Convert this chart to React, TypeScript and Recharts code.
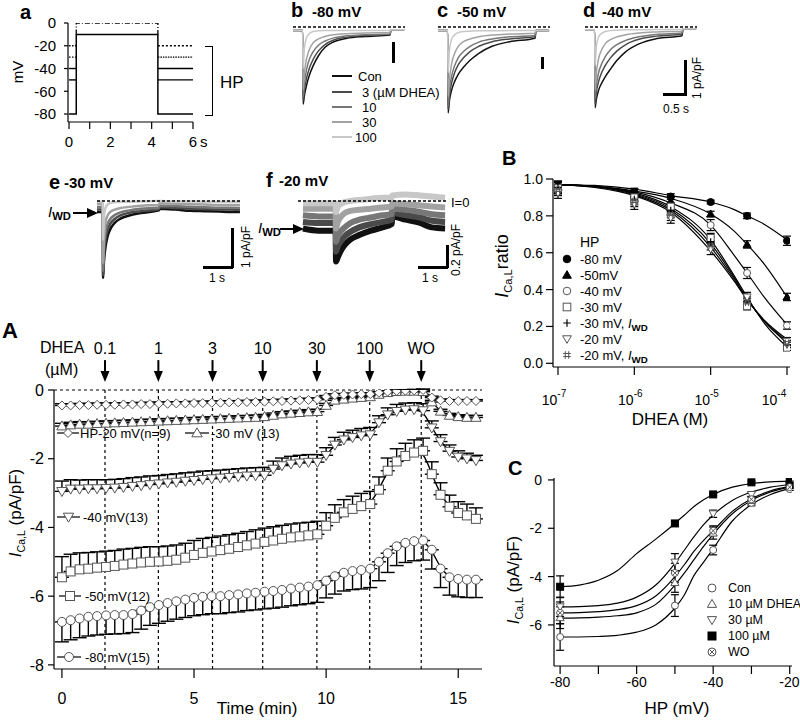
import React from 'react';
import { ComposedChart, LineChart, Line, Scatter, XAxis, YAxis, ReferenceLine, ErrorBar } from 'recharts';

const FONT = '"Liberation Sans", Arial, Helvetica, sans-serif';

// ---------- panel a: voltage protocol ----------
const PROTO_T = [0, 0.35, 0.35, 4.3, 4.3, 6];
const PROTO_MV = [-80, -80, -10, -10, -80, -80];
const TOP_T = [0.35, 0.35, 4.3, 4.3];
const TOP_MV = [-10, 0, 0, -10];
const HOLD_MV = [-20, -30, -40, -50];
const PRE_T = [0, 0.35];
const POST_T = [4.3, 6];

// ---------- panels b-f: current traces ----------
const TRACE_NAMES = ['Con', '3 (\u00b5M DHEA)', '10', '30', '100'];
const TRACE_COLORS = ['#111', '#4a4a4a', '#777', '#a2a2a2', '#c8c8c8'];
const BD_T = [-0.23, -0.01, 0, 0.03, 0.08, 0.15, 0.23, 0.35, 0.5, 0.7, 1.0, 1.4, 1.98, 2.0, 2.3];
const B_TR = [
  [-0.1, -0.1, -2.2, -1.95, -1.65, -1.35, -1.1, -0.82, -0.58, -0.42, -0.32, -0.27, -0.23, -0.08, -0.08],
  [-0.1, -0.1, -2.1, -1.8, -1.45, -1.15, -0.92, -0.68, -0.5, -0.37, -0.29, -0.24, -0.21, -0.08, -0.08],
  [-0.1, -0.1, -2.0, -1.6, -1.2, -0.9, -0.7, -0.52, -0.4, -0.31, -0.25, -0.22, -0.2, -0.08, -0.08],
  [-0.1, -0.1, -1.8, -1.3, -0.9, -0.62, -0.45, -0.34, -0.27, -0.22, -0.19, -0.17, -0.16, -0.08, -0.08],
  [-0.1, -0.1, -1.2, -0.6, -0.3, -0.18, -0.13, -0.11, -0.1, -0.1, -0.1, -0.1, -0.1, -0.08, -0.08],
];
const C_TR = [
  [-0.1, -0.1, -2.45, -2.1, -1.8, -1.55, -1.35, -1.15, -0.95, -0.75, -0.55, -0.42, -0.32, -0.1, -0.1],
  [-0.1, -0.1, -2.35, -1.95, -1.6, -1.3, -1.08, -0.88, -0.7, -0.55, -0.42, -0.34, -0.28, -0.1, -0.1],
  [-0.1, -0.1, -2.25, -1.8, -1.4, -1.1, -0.88, -0.7, -0.55, -0.43, -0.34, -0.28, -0.24, -0.1, -0.1],
  [-0.1, -0.1, -2.0, -1.5, -1.05, -0.75, -0.55, -0.42, -0.34, -0.28, -0.23, -0.2, -0.18, -0.1, -0.1],
  [-0.1, -0.1, -1.3, -0.7, -0.35, -0.22, -0.16, -0.13, -0.12, -0.11, -0.11, -0.1, -0.1, -0.1, -0.1],
];
const D_TR = [
  [-0.08, -0.08, -2.3, -2.05, -1.8, -1.6, -1.42, -1.2, -0.95, -0.7, -0.48, -0.33, -0.25, -0.05, -0.05],
  [-0.08, -0.08, -2.2, -1.85, -1.55, -1.3, -1.1, -0.88, -0.68, -0.5, -0.35, -0.26, -0.2, -0.05, -0.05],
  [-0.08, -0.08, -2.05, -1.65, -1.3, -1.05, -0.85, -0.65, -0.5, -0.38, -0.28, -0.21, -0.17, -0.05, -0.05],
  [-0.08, -0.08, -1.8, -1.3, -0.9, -0.65, -0.48, -0.36, -0.28, -0.22, -0.17, -0.14, -0.12, -0.05, -0.05],
  [-0.08, -0.08, -1.1, -0.55, -0.28, -0.18, -0.13, -0.1, -0.09, -0.08, -0.08, -0.07, -0.07, -0.05, -0.05],
];
const E_T = [-0.21, -0.01, 0, 0.03, 0.08, 0.15, 0.25, 0.4, 0.6, 0.9, 1.3, 1.92, 1.94, 2.5, 3.0, 3.5, 4.0, 4.4, 4.72];
const E_TR = [
  [-0.28, -0.28, -1.97, -1.55, -1.2, -0.92, -0.72, -0.56, -0.45, -0.37, -0.31, -0.24, -0.2, -0.22, -0.25, -0.26, -0.27, -0.28, -0.28],
  [-0.22, -0.22, -1.9, -1.4, -1.0, -0.75, -0.58, -0.46, -0.37, -0.3, -0.26, -0.21, -0.16, -0.18, -0.2, -0.21, -0.22, -0.22, -0.23],
  [-0.16, -0.16, -1.8, -1.2, -0.82, -0.6, -0.46, -0.36, -0.29, -0.24, -0.2, -0.17, -0.12, -0.13, -0.15, -0.16, -0.17, -0.17, -0.18],
  [-0.08, -0.08, -1.6, -0.9, -0.55, -0.38, -0.28, -0.22, -0.18, -0.15, -0.12, -0.1, -0.06, -0.07, -0.08, -0.09, -0.1, -0.1, -0.1],
  [-0.02, -0.02, -1.0, -0.4, -0.18, -0.09, -0.05, -0.03, -0.02, -0.02, -0.01, 0.0, 0.0, -0.01, -0.01, -0.02, -0.02, -0.02, -0.02],
];
const F_T = [-1.14, -0.6, -0.01, 0, 0.05, 0.15, 0.3, 0.5, 0.8, 1.2, 1.6, 1.92, 1.94, 2.4, 2.9, 3.3, 3.76];
const F_TR = [
  [-0.25, -0.27, -0.27, -0.55, -0.52, -0.46, -0.4, -0.35, -0.31, -0.27, -0.24, -0.21, -0.14, -0.17, -0.2, -0.24, -0.25],
  [-0.19, -0.2, -0.2, -0.46, -0.42, -0.37, -0.32, -0.28, -0.24, -0.21, -0.19, -0.17, -0.11, -0.13, -0.15, -0.18, -0.19],
  [-0.13, -0.14, -0.14, -0.37, -0.33, -0.28, -0.24, -0.2, -0.17, -0.15, -0.13, -0.12, -0.07, -0.08, -0.1, -0.12, -0.13],
  [-0.07, -0.07, -0.07, -0.25, -0.2, -0.15, -0.11, -0.09, -0.08, -0.07, -0.06, -0.05, -0.02, -0.03, -0.04, -0.05, -0.06],
  [-0.02, -0.02, -0.02, -0.1, -0.06, -0.03, -0.01, 0.0, 0.01, 0.02, 0.03, 0.03, 0.05, 0.06, 0.05, 0.04, 0.03],
];

// ---------- panel A: time course ----------
const TIME = [0, 0.33, 0.67, 1, 1.33, 1.67, 2, 2.33, 2.67, 3, 3.33, 3.67, 4, 4.33, 4.67, 5, 5.33, 5.67, 6, 6.33,
  6.67, 7, 7.33, 7.67, 8, 8.33, 8.67, 9, 9.33, 9.67, 10, 10.33, 10.67, 11, 11.33, 11.67, 12, 12.33, 12.67, 13,
  13.33, 13.67, 14, 14.33, 14.67, 15, 15.33, 15.67];
const A_HP20 = [-0.45, -0.45, -0.44, -0.44, -0.43, -0.43, -0.43, -0.42, -0.42, -0.41, -0.41, -0.4, -0.4, -0.39, -0.39, -0.38, -0.38, -0.37, -0.37, -0.36,
  -0.36, -0.35, -0.35, -0.34, -0.33, -0.32, -0.31, -0.3, -0.29, -0.28, -0.2, -0.15, -0.14, -0.13, -0.12, -0.12, -0.08, -0.05, -0.03, -0.02,
  -0.01, 0.0, -0.22, -0.3, -0.32, -0.32, -0.32, -0.32];
const A_HP30 = [-1.05, -1.02, -1.0, -1.0, -0.98, -0.97, -0.96, -0.95, -0.94, -0.93, -0.92, -0.91, -0.9, -0.89, -0.88, -0.87, -0.86, -0.85, -0.84, -0.83,
  -0.82, -0.81, -0.8, -0.78, -0.74, -0.7, -0.68, -0.66, -0.64, -0.63, -0.45, -0.3, -0.27, -0.24, -0.22, -0.2, -0.13, -0.08, -0.05, -0.04,
  -0.04, -0.05, -0.35, -0.62, -0.74, -0.78, -0.8, -0.8];
const A_HP40 = [-2.95, -2.88, -2.88, -2.87, -2.87, -2.86, -2.85, -2.83, -2.8, -2.78, -2.75, -2.73, -2.7, -2.68, -2.65, -2.63, -2.6, -2.58, -2.56, -2.54,
  -2.52, -2.5, -2.49, -2.48, -2.3, -2.2, -2.15, -2.12, -2.1, -2.1, -1.9, -1.6, -1.45, -1.38, -1.33, -1.3, -0.95, -0.72, -0.62, -0.58,
  -0.57, -0.6, -1.1, -1.5, -1.78, -1.95, -2.0, -2.05];
const A_HP50 = [-5.45, -5.28, -5.22, -5.2, -5.17, -5.15, -5.12, -5.08, -5.05, -5.02, -5.0, -4.99, -4.97, -4.94, -4.88, -4.8, -4.74, -4.7, -4.66, -4.62,
  -4.57, -4.52, -4.47, -4.42, -4.38, -4.33, -4.29, -4.26, -4.23, -4.2, -3.95, -3.72, -3.56, -3.46, -3.38, -3.32, -2.9, -2.35, -2.08, -1.92,
  -1.82, -1.77, -2.45, -3.05, -3.4, -3.58, -3.65, -3.75];
const A_HP80 = [-6.75, -6.7, -6.65, -6.6, -6.58, -6.56, -6.55, -6.55, -6.52, -6.42, -6.32, -6.26, -6.2, -6.15, -6.1, -6.05, -6.02, -6.0, -6.0, -5.97,
  -5.95, -5.92, -5.9, -5.87, -5.85, -5.82, -5.78, -5.75, -5.72, -5.68, -5.55, -5.42, -5.32, -5.27, -5.24, -5.2, -5.0, -4.75, -4.55, -4.45,
  -4.4, -4.38, -4.65, -5.2, -5.45, -5.5, -5.52, -5.52];
const A_ERR20 = [0.05, 0.05, 0.05, 0.05, 0.05, 0.05, 0.05, 0.05, 0.05, 0.05, 0.05, 0.05, 0.05, 0.05, 0.05, 0.05, 0.05, 0.05, 0.05, 0.05,
  0.05, 0.05, 0.05, 0.05, 0.05, 0.05, 0.05, 0.05, 0.05, 0.05, 0.04, 0.04, 0.04, 0.04, 0.04, 0.04, 0.03, 0.03, 0.03, 0.03,
  0.03, 0.03, 0.04, 0.04, 0.04, 0.04, 0.04, 0.04];
const A_ERR30 = [0.08, 0.08, 0.08, 0.07, 0.07, 0.07, 0.07, 0.07, 0.07, 0.07, 0.07, 0.07, 0.07, 0.07, 0.07, 0.07, 0.07, 0.07, 0.07, 0.07,
  0.07, 0.07, 0.07, 0.07, 0.07, 0.07, 0.07, 0.07, 0.07, 0.07, 0.06, 0.05, 0.05, 0.05, 0.05, 0.05, 0.04, 0.04, 0.04, 0.04,
  0.04, 0.04, 0.05, 0.06, 0.06, 0.06, 0.06, 0.06];
const A_ERR40 = [0.3, 0.27, 0.26, 0.26, 0.26, 0.25, 0.25, 0.25, 0.25, 0.25, 0.25, 0.24, 0.24, 0.24, 0.24, 0.24, 0.24, 0.23, 0.23, 0.23,
  0.23, 0.23, 0.23, 0.23, 0.23, 0.22, 0.22, 0.22, 0.22, 0.22, 0.22, 0.22, 0.22, 0.21, 0.21, 0.21, 0.2, 0.2, 0.2, 0.2,
  0.2, 0.2, 0.2, 0.2, 0.18, 0.18, 0.16, 0.15];
const A_ERR50 = [0.6, 0.5, 0.48, 0.47, 0.46, 0.46, 0.45, 0.45, 0.44, 0.44, 0.44, 0.43, 0.43, 0.43, 0.42, 0.42, 0.42, 0.41, 0.41, 0.41,
  0.4, 0.4, 0.4, 0.4, 0.4, 0.39, 0.39, 0.39, 0.38, 0.38, 0.38, 0.38, 0.37, 0.37, 0.37, 0.37, 0.37, 0.37, 0.37, 0.37,
  0.37, 0.37, 0.36, 0.35, 0.34, 0.33, 0.33, 0.32];
const A_ERR80 = [0.58, 0.57, 0.56, 0.56, 0.55, 0.55, 0.55, 0.54, 0.54, 0.54, 0.53, 0.53, 0.53, 0.52, 0.52, 0.52, 0.52, 0.51, 0.51, 0.51,
  0.51, 0.5, 0.5, 0.5, 0.5, 0.5, 0.5, 0.5, 0.5, 0.5, 0.5, 0.52, 0.53, 0.54, 0.55, 0.55, 0.55, 0.56, 0.56, 0.57,
  0.57, 0.57, 0.56, 0.55, 0.52, 0.52, 0.52, 0.52];
const DHEA_LABELS = ['0.1', '1', '3', '10', '30', '100', 'WO'];
const DHEA_TIMES = [1.63, 3.65, 5.7, 7.6, 9.65, 11.65, 13.6];

// ---------- panel B: concentration-response ----------
const B_CONC = [1e-7, 1e-6, 3e-6, 1e-5, 3e-5, 1e-4];
const B_FIT_CONC = [1e-7, 3e-7, 1e-6, 3e-6, 1e-5, 2e-5, 3e-5, 5e-5, 1e-4];
const B_SERIES = [
  { name: '-80 mV', kind: 'dot', pts: [0.96, 0.93, 0.905, 0.875, 0.8, 0.665], err: [0.03, 0.02, 0.015, 0.01, 0.015, 0.025], fit: [0.97, 0.965, 0.945, 0.91, 0.875, 0.835, 0.8, 0.755, 0.67] },
  { name: '-50mV', kind: 'fTri', pts: [0.955, 0.925, 0.88, 0.81, 0.645, 0.36], err: [0.03, 0.02, 0.02, 0.015, 0.02, 0.02], fit: [0.97, 0.96, 0.935, 0.895, 0.81, 0.72, 0.645, 0.54, 0.36] },
  { name: '-40 mV', kind: 'circle', pts: [0.95, 0.875, 0.8, 0.75, 0.49, 0.205], err: [0.03, 0.025, 0.025, 0.03, 0.03, 0.02], fit: [0.97, 0.96, 0.93, 0.87, 0.75, 0.59, 0.49, 0.36, 0.21] },
  { name: '-30 mV', kind: 'square', pts: [0.95, 0.9, 0.85, 0.68, 0.31, 0.085], err: [0.03, 0.02, 0.02, 0.025, 0.02, 0.015], fit: [0.97, 0.96, 0.925, 0.85, 0.67, 0.48, 0.36, 0.22, 0.09] },
  { name: '-30 mV, ', sub: true, kind: 'plus', pts: [0.955, 0.89, 0.83, 0.66, 0.34, 0.1], err: [0.03, 0.02, 0.02, 0.025, 0.02, 0.015], fit: [0.97, 0.96, 0.92, 0.84, 0.65, 0.47, 0.35, 0.23, 0.11] },
  { name: '-20 mV', kind: 'triDown', pts: [0.925, 0.865, 0.79, 0.62, 0.36, 0.12], err: [0.03, 0.03, 0.03, 0.03, 0.025, 0.02], fit: [0.97, 0.958, 0.915, 0.83, 0.63, 0.46, 0.35, 0.23, 0.12] },
  { name: '-20 mV, ', sub: true, kind: 'hash', pts: [0.94, 0.88, 0.81, 0.64, 0.33, 0.11], err: [0.03, 0.02, 0.02, 0.025, 0.02, 0.015], fit: [0.97, 0.955, 0.91, 0.82, 0.61, 0.45, 0.345, 0.235, 0.13] },
];

// ---------- panel C: availability vs HP ----------
const C_HP = [-80, -50, -40, -30, -20];
const C_FIT_HP = [-80, -75, -70, -65, -60, -55, -50, -47.5, -45, -42.5, -40, -35, -30, -25, -20];
const C_SERIES = [
  { name: 'Con', kind: 'circle', pts: [-6.5, -5.2, -2.9, -0.95, -0.38], err: [0.55, 0.45, 0.2, 0.12, 0.05], fit: [-6.5, -6.5, -6.48, -6.43, -6.3, -6.0, -5.3, -4.75, -3.95, -3.4, -2.85, -1.7, -1.02, -0.6, -0.35] },
  { name: '10 \u00b5M DHEA', kind: 'triUp', pts: [-5.7, -4.25, -2.2, -0.85, -0.25], err: [0.45, 0.4, 0.25, 0.15, 0.05], fit: [-5.72, -5.71, -5.68, -5.62, -5.5, -5.15, -4.35, -3.85, -3.3, -2.75, -2.25, -1.4, -0.85, -0.5, -0.3] },
  { name: '30 \u00b5M', kind: 'triDown', pts: [-5.25, -3.4, -1.4, -0.6, -0.2], err: [0.4, 0.35, 0.15, 0.1, 0.05], fit: [-5.25, -5.24, -5.2, -5.1, -4.85, -4.35, -3.45, -2.9, -2.35, -1.85, -1.45, -0.85, -0.5, -0.3, -0.2] },
  { name: '100 \u00b5M', kind: 'fSquare', pts: [-4.42, -1.8, -0.6, -0.1, -0.08], err: [0.45, 0.1, 0.05, 0.05, 0.03], fit: [-4.42, -4.35, -4.15, -3.75, -3.05, -2.45, -1.8, -1.45, -1.1, -0.82, -0.6, -0.3, -0.15, -0.08, -0.05] },
  { name: 'WO', kind: 'xCircle', pts: [-5.5, -3.85, -2.1, -0.8, -0.3], err: [0.45, 0.4, 0.2, 0.12, 0.05], fit: [-5.5, -5.49, -5.45, -5.37, -5.2, -4.8, -4.0, -3.5, -2.95, -2.5, -2.1, -1.3, -0.78, -0.45, -0.28] },
];

type Kind = 'circle' | 'square' | 'triUp' | 'triDown' | 'diamond' | 'dot' | 'fTri' | 'fSquare' | 'plus' | 'hash' | 'xCircle';

function Mark({ cx, cy, kind, r = 4.5, stroke = '#555' }: { cx?: number; cy?: number; kind: Kind; r?: number; stroke?: string }) {
  if (cx == null || cy == null || isNaN(cx) || isNaN(cy)) return null;
  const s = { stroke, strokeWidth: 1, fill: '#fff' };
  const k = { fill: '#000', stroke: '#000', strokeWidth: 1 };
  switch (kind) {
    case 'circle':
      return <circle cx={cx} cy={cy} r={r} {...s} />;
    case 'dot':
      return <circle cx={cx} cy={cy} r={r} {...k} />;
    case 'square':
      return <rect x={cx - r} y={cy - r} width={2 * r} height={2 * r} {...s} />;
    case 'fSquare':
      return <rect x={cx - r} y={cy - r} width={2 * r} height={2 * r} {...k} />;
    case 'triUp':
      return <polygon points={`${cx},${cy - r * 1.15} ${cx - r * 1.15},${cy + r * 0.85} ${cx + r * 1.15},${cy + r * 0.85}`} {...s} />;
    case 'fTri':
      return <polygon points={`${cx},${cy - r * 1.15} ${cx - r * 1.15},${cy + r * 0.85} ${cx + r * 1.15},${cy + r * 0.85}`} {...k} />;
    case 'triDown':
      return <polygon points={`${cx},${cy + r * 1.15} ${cx - r * 1.15},${cy - r * 0.85} ${cx + r * 1.15},${cy - r * 0.85}`} {...s} />;
    case 'diamond':
      return <polygon points={`${cx},${cy - r} ${cx + r},${cy} ${cx},${cy + r} ${cx - r},${cy}`} {...s} />;
    case 'plus':
      return <path d={`M${cx - r},${cy}H${cx + r}M${cx},${cy - r}V${cy + r}`} stroke="#000" strokeWidth={1.2} />;
    case 'hash':
      return (
        <path
          d={`M${cx - r * 0.45},${cy - r}V${cy + r}M${cx + r * 0.45},${cy - r}V${cy + r}M${cx - r},${cy - r * 0.4}H${cx + r}M${cx - r},${cy + r * 0.4}H${cx + r}`}
          stroke="#555" strokeWidth={1} fill="none"
        />
      );
    case 'xCircle': {
      const d = r * 0.6;
      return (
        <g>
          <circle cx={cx} cy={cy} r={r} {...s} />
          <path d={`M${cx - d},${cy - d}L${cx + d},${cy + d}M${cx - d},${cy + d}L${cx + d},${cy - d}`} stroke={stroke} strokeWidth={1} />
        </g>
      );
    }
  }
  return null;
}

const dotFn = (kind: Kind, r = 4.5) => (p: any) => <Mark key={`m${p.index}`} cx={p.cx} cy={p.cy} kind={kind} r={r} />;

function Txt({ x, y, size = 14, bold, anchor = 'start', rotate, children }: {
  x: number; y: number; size?: number; bold?: boolean; anchor?: 'start' | 'middle' | 'end'; rotate?: number; children: React.ReactNode;
}) {
  const tx = anchor === 'middle' ? '-50%' : anchor === 'end' ? '-100%' : '0';
  return (
    <div
      style={{
        position: 'absolute', left: x, top: y, fontSize: size, fontWeight: bold ? 700 : 400, whiteSpace: 'nowrap',
        lineHeight: 1, transform: `translate(${tx}, -50%)${rotate ? ` rotate(${rotate}deg)` : ''}`,
      }}
    >
      {children}
    </div>
  );
}

const ICaL = () => (
  <>
    <i>I</i>
    <span style={{ fontSize: '0.62em', position: 'relative', top: '0.35em' }}>Ca,L</span>
  </>
);

const IWD = () => (
  <>
    <i>I</i>
    <span style={{ fontSize: '0.75em', fontWeight: 700, position: 'relative', top: '0.3em' }}>WD</span>
  </>
);

function Bar({ x, y, w, h }: { x: number; y: number; w: number; h: number }) {
  return <div style={{ position: 'absolute', left: x, top: y, width: w, height: h, background: '#000' }} />;
}

function Arrow({ x0, x1, y }: { x0: number; x1: number; y: number }) {
  return (
    <svg style={{ position: 'absolute', left: x0, top: y - 6 }} width={x1 - x0 + 2} height={12}>
      <line x1={0} y1={6} x2={x1 - x0 - 9} y2={6} stroke="#000" strokeWidth={2} />
      <polygon points={`${x1 - x0 - 11},1 ${x1 - x0 - 11},11 ${x1 - x0},6`} fill="#000" />
    </svg>
  );
}

function LegendSample({ x, y, kind, x0, x1, line = true, r = 4.5 }: { x: number; y: number; kind: Kind; x0: number; x1: number; line?: boolean; r?: number }) {
  return (
    <svg style={{ position: 'absolute', left: x0, top: y - 7 }} width={x1 - x0} height={14}>
      {line && <line x1={0} y1={7} x2={x1 - x0} y2={7} stroke="#000" strokeWidth={1.2} />}
      <Mark cx={x - x0} cy={7} kind={kind} r={r} />
    </svg>
  );
}

function traceRows(t: number[], s: number[][]) {
  return t.map((tt, i) => ({ t: tt, s0: s[0][i], s1: s[1][i], s2: s[2][i], s3: s[3][i], s4: s[4][i] }));
}

function Traces({ x, y, w, h, t, s, xd, yd, sw = 1.5 }: {
  x: number; y: number; w: number; h: number; t: number[]; s: number[][]; xd: [number, number]; yd: [number, number]; sw?: number;
}) {
  return (
    <div style={{ position: 'absolute', left: x, top: y }}>
      <LineChart width={w} height={h} data={traceRows(t, s)} margin={{ top: 0, right: 0, bottom: 0, left: 0 }}>
        <XAxis type="number" dataKey="t" domain={xd} hide allowDataOverflow />
        <YAxis type="number" domain={yd} hide allowDataOverflow />
        {[0, 1, 2, 3, 4].map((k) => (
          <Line key={k} dataKey={`s${k}`} type="monotone" stroke={TRACE_COLORS[k]} strokeWidth={sw} dot={false} isAnimationActive={false} />
        ))}
        <ReferenceLine y={0} stroke="#000" strokeDasharray="3 2" strokeWidth={1.3} />
      </LineChart>
    </div>
  );
}

const arrowShape = (label: string) => (p: any) => {
  const { x1, y1, x2, y2 } = p;
  return (
    <g>
      <text x={x1} y={y1 - 6} textAnchor="middle" fontSize={16} fontFamily={FONT} fill="#000">{label}</text>
      <line x1={x1} y1={y1} x2={x2} y2={y2 - 9} stroke="#000" strokeWidth={2} />
      <polygon points={`${x2 - 4.5},${y2 - 11} ${x2 + 4.5},${y2 - 11} ${x2},${y2}`} fill="#000" />
    </g>
  );
};

const axisProps = { axisLine: { stroke: '#000', strokeWidth: 1.2 }, tickLine: { stroke: '#000', strokeWidth: 1.2 } };

function PanelProtocol() {
  const main = PROTO_T.map((t, i) => ({ t, v: PROTO_MV[i] }));
  const top = TOP_T.map((t, i) => ({ t, v: TOP_MV[i] }));
  const tick = (p: any) => {
    const v = p.payload.value;
    if (v % 2 !== 0) return <g />;
    return (
      <g>
        <text x={p.x} y={p.y + 16} textAnchor="middle" fontSize={15} fontFamily={FONT}>{v}</text>
        {v === 6 && <text x={p.x + 7} y={p.y + 16} fontSize={15} fontFamily={FONT}>s</text>}
      </g>
    );
  };
  return (
    <div style={{ position: 'absolute', left: 0, top: 0 }}>
      <LineChart width={210} height={160} margin={{ top: 23, right: 17, bottom: 8, left: 23 }}>
        <XAxis type="number" dataKey="t" domain={[-0.05, 6]} ticks={[0, 1, 2, 3, 4, 5, 6]} tick={tick} tickSize={7} height={30} allowDataOverflow {...axisProps} />
        <YAxis type="number" domain={[-87, 0]} ticks={[0, -20, -40, -60, -80]} width={45} tickSize={4} tickMargin={8}
          tick={{ fontSize: 15, fill: '#000', fontFamily: FONT }} allowDataOverflow {...axisProps} />
        <Line data={main} dataKey="v" type="linear" stroke="#000" strokeWidth={1.5} dot={false} isAnimationActive={false} />
        <Line data={top} dataKey="v" type="linear" stroke="#000" strokeWidth={1.3} strokeDasharray="5 2 1 2" dot={false} isAnimationActive={false} />
        {HOLD_MV.map((mv, i) => (
          <Line key={`pre${mv}`} data={PRE_T.map((t) => ({ t, v: mv }))} dataKey="v" type="linear" stroke="#000" strokeWidth={1.4}
            strokeDasharray={i < 2 ? '1.5 1.5' : undefined} dot={false} isAnimationActive={false} />
        ))}
        {HOLD_MV.map((mv, i) => (
          <Line key={`post${mv}`} data={POST_T.map((t) => ({ t, v: mv }))} dataKey="v" type="linear" stroke="#000" strokeWidth={1.4}
            strokeDasharray={i < 2 ? (i === 0 ? '2 2' : '1.5 1') : undefined} dot={false} isAnimationActive={false} />
        ))}
      </LineChart>
    </div>
  );
}

function PanelTime() {
  const rows = TIME.map((t, i) => ({
    t,
    v20: A_HP20[i], e20: [0, A_ERR20[i]],
    v30: A_HP30[i], e30: [0, A_ERR30[i]],
    v40: A_HP40[i], e40: [0, A_ERR40[i]],
    v50: A_HP50[i], e50: [0, A_ERR50[i]],
    v80: A_HP80[i], e80: [A_ERR80[i], 0],
  }));
  const series: { key: string; kind: Kind }[] = [
    { key: '80', kind: 'circle' },
    { key: '50', kind: 'square' },
    { key: '40', kind: 'triDown' },
    { key: '30', kind: 'triUp' },
    { key: '20', kind: 'diamond' },
  ];
  const tick = (p: any) => (
    <text x={p.x} y={p.y + 24} textAnchor="middle" fontSize={16} fontFamily={FONT}>{p.payload.value}</text>
  );
  return (
    <div style={{ position: 'absolute', left: 0, top: 330 }}>
      <LineChart width={500} height={390} data={rows} margin={{ top: 60, right: 18, bottom: 21, left: 14 }}>
        <XAxis type="number" dataKey="t" domain={[-0.3, 15.9]} ticks={[0, 5, 10, 15]} tick={tick} tickSize={9} height={30} allowDataOverflow {...axisProps} />
        <YAxis type="number" domain={[-8.12, 0]} ticks={[0, -2, -4, -6, -8]} width={40} tickSize={6} tickMargin={4}
          tick={{ fontSize: 16, fill: '#000', fontFamily: FONT }} allowDataOverflow {...axisProps} />
        <ReferenceLine y={0} stroke="#000" strokeDasharray="3 3" />
        {DHEA_TIMES.map((t) => (
          <ReferenceLine key={`v${t}`} segment={[{ x: t, y: 0 }, { x: t, y: -8.12 }]} stroke="#000" strokeDasharray="3 3" strokeWidth={1.2} ifOverflow="visible" />
        ))}
        {DHEA_TIMES.map((t, i) => (
          <ReferenceLine key={`a${t}`} segment={[{ x: t, y: 0.87 }, { x: t, y: 0.23 }]} ifOverflow="visible" shape={arrowShape(DHEA_LABELS[i])} />
        ))}
        {series.map((s) => (
          <Line key={s.key} dataKey={`v${s.key}`} type="basis" stroke="#000" strokeWidth={1.4} dot={dotFn(s.kind)} isAnimationActive={false}>
            <ErrorBar dataKey={`e${s.key}`} width={7} stroke="#000" strokeWidth={1.4} />
          </Line>
        ))}
      </LineChart>
    </div>
  );
}

function PanelConc() {
  const rows = B_FIT_CONC.map((c, i) => {
    const r: Record<string, number> = { c };
    B_SERIES.forEach((s, k) => { r[`f${k}`] = s.fit[i]; });
    return r;
  });
  const tick = (p: any) => (
    <text x={p.x - 4} y={p.y + 28} textAnchor="middle" fontSize={14} fontFamily={FONT}>
      10<tspan dy={-8} fontSize={10}>{Math.round(Math.log10(p.payload.value))}</tspan>
    </text>
  );
  return (
    <div style={{ position: 'absolute', left: 480, top: 160 }}>
      <ComposedChart width={320} height={260} data={rows} margin={{ top: 19, right: 10, bottom: 18, left: 28 }}>
        <XAxis type="number" dataKey="c" scale="log" domain={[8.6e-8, 1.095e-4]} ticks={[1e-7, 1e-6, 1e-5, 1e-4]} tick={tick}
          tickSize={8} height={35} allowDataOverflow {...axisProps} />
        <YAxis type="number" domain={[-0.02, 1]} ticks={[0, 0.2, 0.4, 0.6, 0.8, 1]} tickFormatter={(v: number) => v.toFixed(1)} width={45}
          tickSize={7} tickMargin={3} tick={{ fontSize: 14, fill: '#000', fontFamily: FONT }} allowDataOverflow {...axisProps} />
        {B_SERIES.map((s, k) => (
          <Line key={`f${k}`} dataKey={`f${k}`} type="monotone" stroke="#000" strokeWidth={1.2} dot={false} isAnimationActive={false} />
        ))}
        {B_SERIES.map((s, k) => (
          <Scatter key={`p${k}`} data={B_CONC.map((c, i) => ({ c, y: s.pts[i], e: s.err[i] }))} dataKey="y" isAnimationActive={false}
            shape={(p: any) => <Mark cx={p.cx} cy={p.cy} kind={s.kind as Kind} r={3.5} />}>
            <ErrorBar dataKey="e" direction="y" width={4} stroke="#000" strokeWidth={1.2} />
          </Scatter>
        ))}
      </ComposedChart>
    </div>
  );
}

function PanelHP() {
  const rows = C_FIT_HP.map((hp, i) => {
    const r: Record<string, number> = { hp };
    C_SERIES.forEach((s, k) => { r[`f${k}`] = s.fit[i]; });
    return r;
  });
  const tick = (p: any) => {
    const v = p.payload.value;
    if (v % 20 !== 0) return <g />;
    return <text x={p.x} y={p.y + 11} textAnchor="middle" fontSize={14} fontFamily={FONT}>{v}</text>;
  };
  return (
    <div style={{ position: 'absolute', left: 480, top: 460 }}>
      <ComposedChart width={320} height={260} data={rows} margin={{ top: 18, right: 8, bottom: 19, left: 29 }}>
        <XAxis type="number" dataKey="hp" domain={[-81.6, -19.4]} ticks={[-80, -70, -60, -50, -40, -30, -20]} tick={tick}
          tickSize={8} height={35} allowDataOverflow {...axisProps} />
        <YAxis type="number" domain={[-7.7, 0.08]} ticks={[0, -2, -4, -6]} width={45} tickSize={6} tickMargin={6}
          tick={{ fontSize: 14, fill: '#000', fontFamily: FONT }} allowDataOverflow {...axisProps} />
        {C_SERIES.map((s, k) => (
          <Line key={`f${k}`} dataKey={`f${k}`} type="monotone" stroke="#000" strokeWidth={1.2} dot={false} isAnimationActive={false} />
        ))}
        {C_SERIES.map((s, k) => (
          <Scatter key={`p${k}`} data={C_HP.map((hp, i) => ({ hp, y: s.pts[i], e: s.err[i] }))} dataKey="y" isAnimationActive={false}
            shape={(p: any) => <Mark cx={p.cx} cy={p.cy} kind={s.kind as Kind} r={3.5} />}>
            <ErrorBar dataKey="e" direction="y" width={4} stroke="#000" strokeWidth={1.2} />
          </Scatter>
        ))}
      </ComposedChart>
    </div>
  );
}

export default function App() {
  const legendA: { kind: Kind; x0: number; x1: number; y: number; text: string; tx: number }[] = [
    { kind: 'diamond', x0: 57, x1: 79, y: 433, text: 'HP-20 mV(n=9)', tx: 80 },
    { kind: 'triUp', x0: 185, x1: 209, y: 433, text: '-30 mV (13)', tx: 211 },
    { kind: 'triDown', x0: 57, x1: 80, y: 517, text: '-40 mV(13)', tx: 83 },
    { kind: 'square', x0: 59, x1: 81, y: 596, text: '-50 mV(12)', tx: 85 },
    { kind: 'circle', x0: 57, x1: 81, y: 657, text: '-80 mV(15)', tx: 85 },
  ];
  const legendBY = [259, 275, 291, 307, 323, 339, 355];
  const legendCY = [588, 604, 620, 636, 652];
  const legendTraceY = [76, 92, 107, 122, 137];
  return (
    <div style={{ position: 'absolute', left: 0, top: 0, width: 800, height: 720, background: '#fff', fontFamily: FONT, color: '#000', overflow: 'hidden' }}>
      {/* a: protocol */}
      <PanelProtocol />
      <Txt x={20} y={12} size={20} bold>a</Txt>
      <Txt x={17} y={72} size={15} anchor="middle" rotate={-90}>mV</Txt>
      <div style={{ position: 'absolute', left: 205, top: 46, width: 7, height: 68, border: '1.5px solid #000', borderLeft: 'none' }} />
      <Txt x={220} y={82} size={17}>HP</Txt>

      {/* b-d: traces */}
      <Traces x={293} y={20} w={112} h={95} t={BD_T} s={B_TR} xd={[-0.23, 2.32]} yd={[-2.51, 0.2]} />
      <Traces x={438} y={20} w={112} h={95} t={BD_T} s={C_TR} xd={[-0.23, 2.32]} yd={[-2.51, 0.2]} />
      <Traces x={585} y={20} w={112} h={95} t={BD_T} s={D_TR} xd={[-0.23, 2.32]} yd={[-2.51, 0.2]} />
      <Txt x={291} y={10} size={20} bold>b</Txt>
      <Txt x={312} y={11} size={15} bold>-80 mV</Txt>
      <Txt x={437} y={10} size={20} bold>c</Txt>
      <Txt x={457} y={11} size={15} bold>-50 mV</Txt>
      <Txt x={583} y={10} size={20} bold>d</Txt>
      <Txt x={602} y={11} size={15} bold>-40 mV</Txt>
      {TRACE_NAMES.map((n, i) => (
        <React.Fragment key={n}>
          <div style={{ position: 'absolute', left: 332, top: legendTraceY[i] - 1, width: 20, height: 2, background: TRACE_COLORS[i] }} />
          <Txt x={i === 0 ? 358 : i === 4 ? 355 : 362} y={legendTraceY[i]} size={13}>{n}</Txt>
        </React.Fragment>
      ))}
      <Bar x={392} y={42} w={3} h={21} />
      <Bar x={541} y={57} w={3} h={12} />
      <Bar x={684} y={60} w={2.5} h={35} />
      <Bar x={663} y={93} w={23.5} h={2.5} />
      <Txt x={697} y={78} size={12} anchor="middle" rotate={-90}>1 pA/pF</Txt>
      <Txt x={676} y={109} size={12} anchor="middle">0.5 s</Txt>

      {/* e, f */}
      <Traces x={97} y={195} w={143} h={88} t={E_T} s={E_TR} xd={[-0.21, 4.72]} yd={[-2.1, 0.154]} sw={2.5} />
      <Traces x={298} y={188} w={150} h={80} t={F_T} s={F_TR} xd={[-1.31, 3.86]} yd={[-0.609, 0.118]} sw={6} />
      <Txt x={49} y={182} size={20} bold>e</Txt>
      <Txt x={64} y={182} size={15} bold>-30 mV</Txt>
      <Txt x={266} y={180} size={20} bold>f</Txt>
      <Txt x={279} y={180} size={15} bold>-20 mV</Txt>
      <Txt x={48} y={212} size={15}><IWD /></Txt>
      <Arrow x0={73} x1={98} y={213} />
      <Txt x={258} y={228} size={15}><IWD /></Txt>
      <Arrow x0={280} x1={304} y={229} />
      <Bar x={203} y={266} w={30} h={2.5} />
      <Bar x={231} y={228} w={2.5} h={40} />
      <Txt x={217} y={278} size={12} anchor="middle">1 s</Txt>
      <Txt x={246} y={247} size={12} anchor="middle" rotate={-90}>1 pA/pF</Txt>
      <Bar x={418} y={266} w={30} h={2.5} />
      <Bar x={446} y={245} w={2.5} h={23} />
      <Txt x={430} y={278} size={12} anchor="middle">1 s</Txt>
      <Txt x={456} y={250} size={12} anchor="middle" rotate={-90}>0.2 pA/pF</Txt>
      <Txt x={451} y={202} size={13}>I=0</Txt>

      {/* A: time course */}
      <PanelTime />
      <Txt x={2} y={331} size={22} bold>A</Txt>
      <Txt x={40} y={348} size={16}>DHEA</Txt>
      <Txt x={45} y={370} size={16}>{'(\u00b5M)'}</Txt>
      <Txt x={15} y={513} size={17} anchor="middle" rotate={-90}><ICaL /> (pA/pF)</Txt>
      <Txt x={257} y={708} size={17} anchor="middle">Time (min)</Txt>
      {legendA.map((l) => (
        <React.Fragment key={l.text}>
          <LegendSample x={(l.x0 + l.x1) / 2} y={l.y} kind={l.kind} x0={l.x0} x1={l.x1} />
          <Txt x={l.tx} y={l.y} size={13}>{l.text}</Txt>
        </React.Fragment>
      ))}

      {/* B: concentration-response */}
      <PanelConc />
      <Txt x={502} y={158} size={20} bold>B</Txt>
      <Txt x={502} y={266} size={18} anchor="middle" rotate={-90}><ICaL />ratio</Txt>
      <Txt x={670} y={419} size={17} anchor="middle">DHEA (M)</Txt>
      <Txt x={580} y={242} size={14}>HP</Txt>
      {B_SERIES.map((s, k) => (
        <React.Fragment key={`lb${k}`}>
          <LegendSample x={567} y={legendBY[k]} kind={s.kind as Kind} x0={560} x1={575} line={false} r={3.8} />
          <Txt x={580} y={legendBY[k]} size={13}>{s.name}{s.sub ? <IWD /> : null}</Txt>
        </React.Fragment>
      ))}

      {/* C: HP dependence */}
      <PanelHP />
      <Txt x={508} y={468} size={20} bold>C</Txt>
      <Txt x={513} y={580} size={17} anchor="middle" rotate={-90}><ICaL /> (pA/pF)</Txt>
      <Txt x={677} y={708} size={17} anchor="middle">HP (mV)</Txt>
      {C_SERIES.map((s, k) => (
        <React.Fragment key={`lc${k}`}>
          <LegendSample x={712} y={legendCY[k]} kind={s.kind as Kind} x0={704} x1={720} line={false} r={4} />
          <Txt x={728} y={legendCY[k]} size={12.5}>{s.name}</Txt>
        </React.Fragment>
      ))}
    </div>
  );
}
